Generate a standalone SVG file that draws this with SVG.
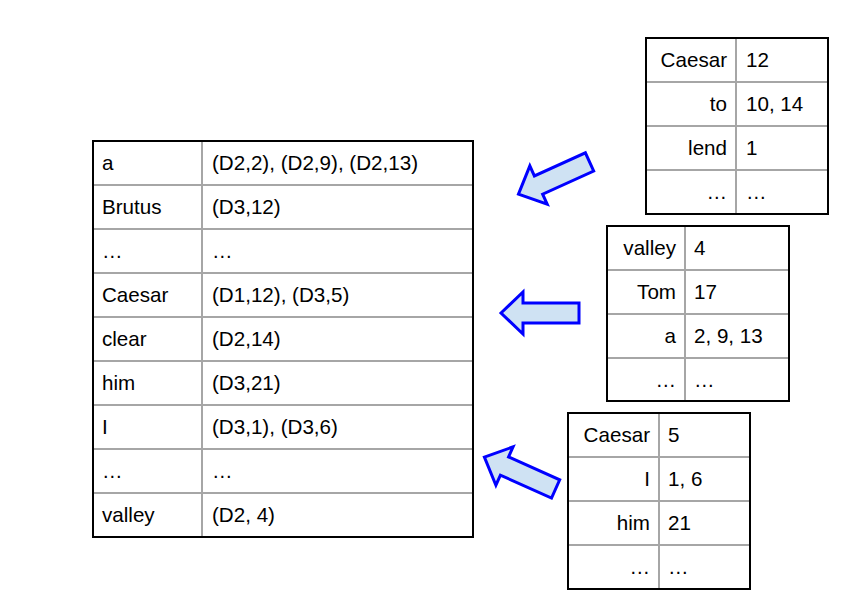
<svg xmlns="http://www.w3.org/2000/svg" width="845" height="591" viewBox="0 0 845 591">
<defs>
<style>
text{font-family:"Liberation Sans",Arial,sans-serif;font-size:20.6px;fill:#000}
.r{text-anchor:end}
.grid{stroke:#a6a6a6;stroke-width:2;fill:none}
.box{stroke:#000;stroke-width:2;fill:none}
.arrow{fill:#cfe2f3;stroke:#0000ff;stroke-width:3;stroke-linejoin:miter}
</style>
<path id="arr" d="M-39,0 L-17,-21 L-17,-10 L39,-10 L39,10 L-17,10 L-17,21 Z"/>
</defs>
<rect width="845" height="591" fill="#fff"/>
<g id="main-index">
<path class="grid" d="M202,141V537M93,185H473M93,229H473M93,273H473M93,317H473M93,361H473M93,405H473M93,449H473M93,493H473"/>
<rect class="box" x="93" y="141" width="380" height="396"/>
<text x="102" y="170">a</text><text x="212" y="170">(D2,2), (D2,9), (D2,13)</text>
<text x="102" y="214">Brutus</text><text x="212" y="214">(D3,12)</text>
<text x="102" y="258">…</text><text x="212" y="258">…</text>
<text x="102" y="302">Caesar</text><text x="212" y="302">(D1,12), (D3,5)</text>
<text x="102" y="346">clear</text><text x="212" y="346">(D2,14)</text>
<text x="102" y="390">him</text><text x="212" y="390">(D3,21)</text>
<text x="102" y="434">I</text><text x="212" y="434">(D3,1), (D3,6)</text>
<text x="102" y="478">…</text><text x="212" y="478">…</text>
<text x="102" y="522">valley</text><text x="212" y="522">(D2, 4)</text>
</g>
<g id="doc1">
<path class="grid" d="M736,38V214M646,82H828M646,126H828M646,170H828"/>
<rect class="box" x="646" y="38" width="182" height="176"/>
<text class="r" x="727" y="67">Caesar</text><text x="746" y="67">12</text>
<text class="r" x="727" y="111">to</text><text x="746" y="111">10, 14</text>
<text class="r" x="727" y="155">lend</text><text x="746" y="155">1</text>
<text class="r" x="727" y="199">…</text><text x="746" y="199">…</text>
</g>
<g id="doc2">
<path class="grid" d="M685,226V401M607,270H789M607,314H789M607,358H789"/>
<rect class="box" x="607" y="226" width="182" height="175"/>
<text class="r" x="676" y="255">valley</text><text x="694" y="255">4</text>
<text class="r" x="676" y="299">Tom</text><text x="694" y="299">17</text>
<text class="r" x="676" y="343">a</text><text x="694" y="343">2, 9, 13</text>
<text class="r" x="676" y="387">…</text><text x="694" y="387">…</text>
</g>
<g id="doc3">
<path class="grid" d="M659,413V589M568,457H750M568,501H750M568,545H750"/>
<rect class="box" x="568" y="413" width="182" height="176"/>
<text class="r" x="650" y="442">Caesar</text><text x="668" y="442">5</text>
<text class="r" x="650" y="486">I</text><text x="668" y="486">1, 6</text>
<text class="r" x="650" y="530">him</text><text x="668" y="530">21</text>
<text class="r" x="650" y="574">…</text><text x="668" y="574">…</text>
</g>
<g id="connectors">
<use href="#arr" class="arrow" transform="translate(554,178) rotate(-24.4)"/>
<use href="#arr" class="arrow" transform="translate(540,313)"/>
<use href="#arr" class="arrow" transform="translate(520,473) rotate(24.1)"/>
</g>
</svg>
